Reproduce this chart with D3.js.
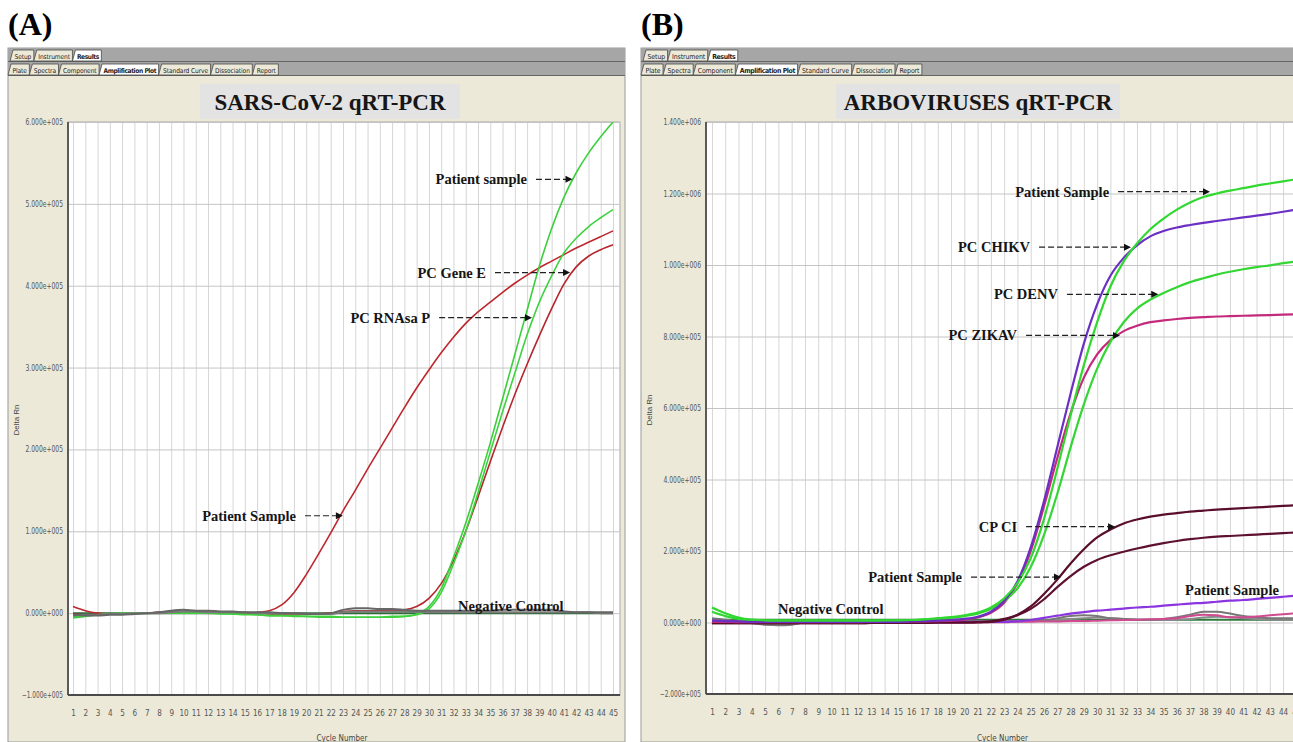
<!DOCTYPE html>
<html>
<head>
<meta charset="utf-8">
<script src="https://cdn.jsdelivr.net/npm/d3@7"></script>
<style>
  html, body { margin: 0; padding: 0; background: #fff; }
  svg { display: block; }
  .tick-lbl text { font-family: "Liberation Sans Narrow", "DejaVu Sans Condensed", "Liberation Sans", sans-serif; font-size: 8px; fill: #555; }
  .note { font-family: "Liberation Serif", "DejaVu Serif", serif; font-weight: bold; font-size: 14.5px; fill: #151515; }
</style>
</head>
<body>
<div id="chart"></div>
<script>
// ---- shared categories ----
const cycles = [1,2,3,4,5,6,7,8,9,10,11,12,13,14,15,16,17,18,19,20,21,22,23,24,25,26,27,28,29,30,31,32,33,34,35,36,37,38,39,40,41,42,43,44,45];
const tabsTop = ["Setup", "Instrument", "Results"];
const tabsBottom = ["Plate", "Spectra", "Component", "Amplification Plot", "Standard Curve", "Dissociation", "Report"];

// ---- panel A : SARS-CoV-2 (values in units of 1e5 Delta Rn) ----
const aTicks = [-1, 0, 1, 2, 3, 4, 5, 6];
const aRedPatient = [0.08,0.03,0.0,-0.01,-0.01,0.0,0.0,0.01,0.01,0.01,0.01,0.01,0.0,0.0,0.0,0.01,0.03,0.1,0.25,0.47,0.72,0.98,1.25,1.5,1.76,2.01,2.26,2.51,2.75,2.97,3.18,3.37,3.54,3.68,3.8,3.92,4.03,4.13,4.22,4.3,4.38,4.46,4.53,4.6,4.67];
const aRedRnaseP = [-0.01,-0.02,-0.02,-0.01,-0.01,0,0,0.01,0.01,0.02,0.01,0.01,0.01,0,0,0,-0.01,-0.01,-0.01,-0.01,-0.01,0,0.02,0.03,0.03,0.03,0.03,0.04,0.08,0.18,0.36,0.64,1.0,1.42,1.85,2.27,2.67,3.04,3.39,3.72,4.02,4.23,4.36,4.44,4.5];
const aGreenPatient = [-0.06,-0.04,-0.02,-0.01,-0.01,0,0,0,0,0,0,0,0,-0.01,-0.01,-0.02,-0.03,-0.03,-0.04,-0.04,-0.05,-0.05,-0.05,-0.05,-0.05,-0.05,-0.05,-0.04,-0.01,0.08,0.3,0.68,1.1,1.58,2.08,2.62,3.16,3.7,4.24,4.7,5.08,5.38,5.62,5.82,6.0];
const aGreenGeneE = [-0.04,-0.03,-0.02,-0.01,0,0,0,0,0,0,0,0,-0.01,-0.01,-0.02,-0.02,-0.03,-0.03,-0.03,-0.04,-0.04,-0.04,-0.05,-0.05,-0.05,-0.05,-0.04,-0.04,-0.02,0.05,0.25,0.6,1.0,1.47,1.97,2.46,2.93,3.4,3.8,4.12,4.4,4.58,4.72,4.83,4.93];
const aGrayNeg1 = [-0.02,-0.03,-0.03,-0.02,-0.02,-0.01,0,0.01,0.03,0.04,0.03,0.03,0.02,0.02,0.01,0.01,0.01,0,0,-0.01,-0.01,0.0,0.04,0.06,0.06,0.05,0.05,0.04,0.03,0.03,0.03,0.03,0.03,0.03,0.03,0.04,0.04,0.04,0.04,0.04,0.02,0.01,0.01,0.01,0.01];
const aGrayNeg2 = [-0.03,-0.02,-0.02,-0.01,-0.01,0,0,0,0.01,0.02,0.02,0.01,0.01,0.01,0.01,0,0,0,0,-0.01,-0.01,-0.01,0.01,0.02,0.02,0.02,0.02,0.02,0.02,0.01,0.01,0.01,0.01,0.01,0.01,0.01,0.01,0.01,0.01,0.01,0.01,0.01,0.01,0.0,0.0];
const aDarkGreen = [0,0,0,0,0,0,0,0,0,0,0,0,0,0,0,0,0,0,0,0,0,0,0,0,0,0,0,0,0,0,0,0,0,0,0,0,0,0,0,0,0,0,0,0,0];

// ---- panel B : arboviruses (values in units of 1e5 Delta Rn) ----
const bTicks = [-2, 0, 2, 4, 6, 8, 10, 12, 14];
const bGreenPatient = [0.42,0.26,0.14,0.08,0.06,0.05,0.05,0.05,0.05,0.05,0.05,0.05,0.05,0.06,0.06,0.07,0.09,0.12,0.15,0.2,0.28,0.42,0.68,1.1,1.8,2.9,4.3,5.8,7.2,8.4,9.4,10.1,10.6,11.0,11.3,11.55,11.75,11.9,12.0,12.08,12.15,12.22,12.28,12.34,12.4];
const bGreenDenv = [0.3,0.18,0.1,0.06,0.05,0.05,0.05,0.05,0.05,0.05,0.05,0.05,0.05,0.05,0.05,0.06,0.08,0.1,0.13,0.18,0.25,0.38,0.6,0.95,1.55,2.45,3.6,4.9,6.1,7.1,7.85,8.4,8.78,9.03,9.22,9.38,9.52,9.63,9.73,9.81,9.88,9.94,9.99,10.05,10.1];
const bPurpleChikv = [0.05,0.04,0.03,0.02,0.02,0.02,0.02,0.02,0.02,0.02,0.02,0.02,0.02,0.02,0.02,0.03,0.04,0.05,0.07,0.1,0.16,0.3,0.6,1.15,2.1,3.4,4.9,6.4,7.8,8.9,9.7,10.2,10.55,10.8,10.95,11.05,11.12,11.18,11.23,11.28,11.33,11.38,11.43,11.49,11.55];
const bMagentaZikv = [0.02,0.02,0.01,0.01,0.01,0.01,0.01,0.01,0.01,0.01,0.01,0.01,0.02,0.02,0.02,0.03,0.03,0.04,0.05,0.08,0.14,0.27,0.55,1.1,2.0,3.25,4.6,5.85,6.85,7.5,7.9,8.15,8.3,8.4,8.45,8.49,8.52,8.54,8.56,8.57,8.58,8.59,8.6,8.61,8.62];
const bMaroonCpCi = [-0.02,-0.02,-0.02,-0.02,-0.02,-0.02,-0.02,-0.02,-0.02,-0.02,-0.02,-0.02,-0.01,-0.01,-0.01,-0.01,-0.01,0,0,0,0.01,0.03,0.1,0.22,0.45,0.8,1.2,1.65,2.05,2.38,2.6,2.77,2.88,2.96,3.02,3.06,3.1,3.13,3.16,3.18,3.2,3.22,3.24,3.26,3.28];
const bMaroonPatient = [-0.02,-0.02,-0.02,-0.02,-0.02,-0.02,-0.02,-0.02,-0.02,-0.02,-0.02,-0.02,-0.01,-0.01,-0.01,-0.01,-0.01,0,0,0,0.01,0.02,0.08,0.2,0.38,0.65,0.99,1.3,1.56,1.75,1.88,1.98,2.07,2.15,2.22,2.28,2.33,2.37,2.4,2.42,2.44,2.46,2.48,2.5,2.52];
const bVioletPatient = [0.0,0.0,0.0,0.0,0.0,0.0,0.0,0.0,0.0,0.0,0.0,0.0,0.01,0.01,0.01,0.01,0.01,0.01,0.01,0.01,0.02,0.02,0.02,0.03,0.07,0.13,0.19,0.25,0.29,0.33,0.36,0.39,0.42,0.44,0.47,0.5,0.53,0.55,0.58,0.61,0.63,0.66,0.69,0.72,0.75];
const bPinkLow = [0.0,-0.01,-0.01,-0.01,-0.01,-0.01,-0.01,0,0,0,0,0,0,0,0,0,0,0,0,0,0,0.01,0.01,0.02,0.02,0.03,0.03,0.04,0.04,0.05,0.06,0.07,0.08,0.09,0.1,0.12,0.18,0.22,0.2,0.15,0.15,0.17,0.2,0.23,0.26];
const bGrayNeg1 = [0.12,0.08,0.03,0.0,-0.05,-0.08,-0.06,0.0,0.01,0.01,0.02,0.02,0.02,0.02,0.02,0.03,0.05,0.08,0.05,0.04,0.04,0.04,0.04,0.04,0.04,0.05,0.12,0.18,0.2,0.18,0.12,0.1,0.08,0.08,0.1,0.15,0.22,0.3,0.3,0.25,0.18,0.15,0.12,0.12,0.12];
const bGrayNeg2 = [0.1,0.06,0.02,-0.02,-0.06,-0.07,-0.05,0.0,0.0,0.01,0.01,0.01,0.01,0.01,0.02,0.02,0.03,0.04,0.03,0.03,0.03,0.03,0.03,0.04,0.05,0.06,0.08,0.1,0.12,0.14,0.12,0.1,0.08,0.07,0.07,0.08,0.1,0.14,0.16,0.15,0.12,0.1,0.08,0.08,0.08];
const bDarkGreen = [0.08,0.08,0.08,0.08,0.08,0.08,0.08,0.08,0.08,0.08,0.08,0.08,0.08,0.08,0.08,0.08,0.08,0.08,0.08,0.08,0.08,0.08,0.08,0.08,0.08,0.08,0.08,0.08,0.08,0.08,0.08,0.08,0.08,0.08,0.08,0.08,0.08,0.08,0.08,0.08,0.08,0.08,0.08,0.08,0.08];

const UNIT = 1e5;

const svg = d3.select('#chart').append('svg')
  .attr('width', 1293)
  .attr('height', 742);

// 6.000e+005 style labels like the instrument software
function fmtE(v) {
  const [m, e] = d3.format('.3e')(v).split('e');
  return m + 'e' + e[0] + e.slice(1).padStart(3, '0');
}

function drawPanel(p) {
  const g = svg.append('g');
  const f = p.frame;

  // panel letter
  g.append('text')
    .attr('x', f.x0)
    .attr('y', 35)
    .style('font-family', '"Liberation Serif", "DejaVu Serif", serif')
    .style('font-weight', 'bold')
    .style('font-size', '32px')
    .text(p.letter);

  // beige window
  g.append('rect')
    .attr('x', f.x0).attr('y', 48)
    .attr('width', f.x1 - f.x0).attr('height', 742 - 48)
    .attr('fill', '#ece9d8').attr('stroke', '#9a9a9a');

  // tab band
  g.append('rect')
    .attr('x', f.x0).attr('y', 48)
    .attr('width', f.x1 - f.x0).attr('height', 28)
    .attr('fill', '#a6a6a6');
  [61.5, 75.5].forEach(y => g.append('line')
    .attr('x1', f.x0).attr('x2', f.x1).attr('y1', y).attr('y2', y)
    .attr('stroke', '#666').attr('stroke-width', 1.2));

  function tabRow(labels, y, active) {
    let x = f.x0 + (y < 60 ? 2 : 0);
    labels.forEach(lbl => {
      const tg = g.append('g');
      const t = tg.append('text')
        .attr('y', y + 8.6)
        .style('font-family', '"Liberation Sans Narrow", "DejaVu Sans Condensed", sans-serif')
        .style('font-size', p.tabFont + 'px')
        .style('font-weight', lbl === active ? 'bold' : 'normal')
        .style('letter-spacing', lbl === active ? '-0.4px' : '-0.1px')
        .attr('fill', '#222')
        .text(lbl);
      const w = t.node().getComputedTextLength() + 7;
      tg.insert('path', 'text')
        .attr('d', `M${x},${y + 11}L${x + 3},${y}L${x + w},${y}L${x + w},${y + 11}Z`)
        .attr('fill', lbl === active ? '#ffffff' : '#ece9d8')
        .attr('stroke', '#4a4a4a').attr('stroke-width', 0.8);
      t.attr('x', x + 4.5);
      x += w;
    });
  }
  tabRow(tabsTop, 50, 'Results');
  tabRow(tabsBottom, 64, 'Amplification Plot');

  // title box
  g.append('rect')
    .attr('x', p.titleBox[0]).attr('y', 84)
    .attr('width', p.titleBox[1] - p.titleBox[0]).attr('height', 35)
    .attr('fill', '#e3e3e3');
  g.append('text')
    .attr('x', (p.titleBox[0] + p.titleBox[1]) / 2)
    .attr('y', 110)
    .attr('text-anchor', 'middle')
    .style('font-family', '"Liberation Serif", "DejaVu Serif", serif')
    .style('font-weight', 'bold')
    .style('font-size', '23px')
    .attr('fill', '#161616')
    .text(p.title);

  const x = d3.scaleLinear().domain(p.xDomain).range([p.plot.left, p.plot.right]);
  const y = d3.scaleLinear().domain(p.yDomain).range([p.plot.bottom, p.plot.top]);
  const w = p.plot.right - p.plot.left;
  const h = p.plot.bottom - p.plot.top;

  // plot background
  g.append('rect')
    .attr('x', p.plot.left).attr('y', p.plot.top)
    .attr('width', w).attr('height', h)
    .attr('fill', '#fff').attr('stroke', '#a8a8a8');

  // grid
  g.append('g')
    .attr('transform', `translate(0,${p.plot.bottom})`)
    .call(d3.axisBottom(x).tickValues(cycles).tickSize(-h).tickFormat(''))
    .call(s => s.select('.domain').remove())
    .selectAll('line').attr('stroke', '#d6d6d6');
  g.append('g')
    .attr('transform', `translate(${p.plot.left},0)`)
    .call(d3.axisLeft(y).tickValues(p.yTicks.map(v => v * UNIT)).tickSize(-w).tickFormat(''))
    .call(s => s.select('.domain').remove())
    .selectAll('line').attr('stroke', '#c4c4c4');

  // tick labels
  g.append('g').attr('class', 'tick-lbl')
    .attr('transform', `translate(${p.plot.left},0)`)
    .call(d3.axisLeft(y).tickValues(p.yTicks.map(v => v * UNIT)).tickSize(0).tickPadding(5).tickFormat(fmtE))
    .call(s => s.select('.domain').remove())
    .selectAll('text')
    .attr('textLength', function() { return this.textContent.length * 3.75; })
    .attr('lengthAdjust', 'spacingAndGlyphs');
  g.append('g').attr('class', 'tick-lbl')
    .attr('transform', `translate(0,${p.plot.bottom})`)
    .call(d3.axisBottom(x).tickValues(cycles).tickSize(0).tickPadding(15))
    .call(s => s.select('.domain').remove());

  // axis titles
  g.append('text')
    .attr('transform', `translate(${p.yLabelX},${p.yLabelY}) rotate(-90)`)
    .attr('text-anchor', 'middle')
    .style('font-family', '"Liberation Sans", sans-serif')
    .style('font-size', '8px').attr('fill', '#444')
    .text('Delta Rn');
  g.append('text')
    .attr('x', (p.plot.left + p.plot.right) / 2 - 2)
    .attr('y', 741)
    .attr('text-anchor', 'middle')
    .style('font-family', '"Liberation Sans Narrow", "DejaVu Sans Condensed", sans-serif')
    .style('font-size', '8px').attr('fill', '#444')
    .text('Cycle Number');

  // curves
  const clipId = 'clip-' + p.letter.replace(/\W/g, '');
  g.append('clipPath').attr('id', clipId)
    .append('rect')
    .attr('x', p.plot.left).attr('y', p.plot.top)
    .attr('width', w).attr('height', h);

  const line = d3.line()
    .x((d, i) => x(cycles[i]))
    .y(d => y(d * UNIT))
    .curve(d3.curveMonotoneX);

  g.append('g').attr('clip-path', `url(#${clipId})`)
    .selectAll('path')
    .data(p.series)
    .join('path')
    .attr('d', s => line(s.values))
    .attr('fill', 'none')
    .attr('stroke', s => s.color)
    .attr('stroke-width', s => s.width)
    .attr('stroke-linejoin', 'round');

  // axes lines (left + bottom darker)
  g.append('line')
    .attr('x1', p.plot.left).attr('x2', p.plot.left)
    .attr('y1', p.plot.top).attr('y2', p.plot.bottom)
    .attr('stroke', '#5a5a5a').attr('stroke-width', 2);
  g.append('line')
    .attr('x1', p.plot.left).attr('x2', p.plot.right)
    .attr('y1', p.plot.bottom).attr('y2', p.plot.bottom)
    .attr('stroke', '#4a4a4a').attr('stroke-width', 2);

  // annotations
  p.notes.forEach(n => {
    g.append('text').attr('class', 'note')
      .attr('x', x(n.cx)).attr('y', y(n.vy * UNIT) + 5)
      .attr('text-anchor', n.arrowTo ? 'end' : 'start')
      .text(n.text);
    if (n.arrowTo) {
      const x0 = x(n.cx) + 9;
      const x1 = x(n.arrowTo);
      const yy = y(n.vy * UNIT);
      g.append('line')
        .attr('x1', x0).attr('x2', x1 - 6)
        .attr('y1', yy).attr('y2', yy)
        .attr('stroke', '#222').attr('stroke-width', 1.2)
        .attr('stroke-dasharray', '6,3');
      g.append('path')
        .attr('d', `M${x1},${yy}L${x1 - 7},${yy - 3.5}L${x1 - 7},${yy + 3.5}Z`)
        .attr('fill', '#111');
    }
  });
}

drawPanel({
  letter: '(A)',
  title: 'SARS-CoV-2 qRT-PCR',
  tabFont: 6.6,
  frame: { x0: 8, x1: 625 },
  titleBox: [200, 460],
  plot: { left: 68, right: 620, top: 122, bottom: 695 },
  xDomain: [0.59, 45.57],
  yDomain: [-1 * UNIT, 6 * UNIT],
  yTicks: aTicks,
  yLabelX: 19, yLabelY: 420,
  series: [
    { values: aDarkGreen, color: '#2f6b3a', width: 2 },
    { values: aRedPatient, color: '#bd272d', width: 1.6 },
    { values: aRedRnaseP, color: '#b5262c', width: 1.6 },
    { values: aGreenPatient, color: '#3ccf3c', width: 1.6 },
    { values: aGreenGeneE, color: '#3fd23f', width: 1.6 },
    { values: aGrayNeg2, color: '#7a7a7a', width: 2 },
    { values: aGrayNeg1, color: '#666666', width: 2 }
  ],
  notes: [
    { text: 'Patient sample', cx: 37.99, vy: 5.3, arrowTo: 41.7 },
    { text: 'PC Gene E', cx: 34.65, vy: 4.16, arrowTo: 41.5 },
    { text: 'PC RNAsa P', cx: 30.1, vy: 3.61, arrowTo: 38.4 },
    { text: 'Patient Sample', cx: 19.17, vy: 1.19, arrowTo: 22.99 },
    { text: 'Negative Control', cx: 32.37, vy: 0.09 }
  ]
});

drawPanel({
  letter: '(B)',
  title: 'ARBOVIRUSES qRT-PCR',
  tabFont: 6.9,
  frame: { x0: 641, x1: 1300 },
  titleBox: [836, 1120],
  plot: { left: 706, right: 1303, top: 122, bottom: 694 },
  xDomain: [0.55, 45.5],
  yDomain: [-2 * UNIT, 14 * UNIT],
  yTicks: bTicks,
  yLabelX: 652, yLabelY: 410,
  series: [
    { values: bDarkGreen, color: '#2e7a3a', width: 2 },
    { values: bGrayNeg2, color: '#8a8a8a', width: 2 },
    { values: bGrayNeg1, color: '#777777', width: 2 },
    { values: bPinkLow, color: '#d04a90', width: 2 },
    { values: bVioletPatient, color: '#8a35e0', width: 2.2 },
    { values: bMaroonPatient, color: '#5e1030', width: 2.2 },
    { values: bMaroonCpCi, color: '#5a0e2c', width: 2.2 },
    { values: bMagentaZikv, color: '#c42a7c', width: 2.2 },
    { values: bGreenDenv, color: '#33d633', width: 2.2 },
    { values: bPurpleChikv, color: '#6b2fc4', width: 2.2 },
    { values: bGreenPatient, color: '#30d830', width: 2.2 }
  ],
  notes: [
    { text: 'Patient Sample', cx: 30.9, vy: 12.05, arrowTo: 38.5 },
    { text: 'PC CHIKV', cx: 24.95, vy: 10.5, arrowTo: 32.55 },
    { text: 'PC DENV', cx: 27.05, vy: 9.18, arrowTo: 34.6 },
    { text: 'PC ZIKAV', cx: 23.97, vy: 8.03, arrowTo: 31.72 },
    { text: 'CP CI', cx: 23.97, vy: 2.68, arrowTo: 31.35 },
    { text: 'Patient Sample', cx: 19.83, vy: 1.27, arrowTo: 27.28 },
    { text: 'Patient Sample', cx: 36.62, vy: 0.9 },
    { text: 'Negative Control', cx: 5.97, vy: 0.37 }
  ]
});
</script>
</body>
</html>
